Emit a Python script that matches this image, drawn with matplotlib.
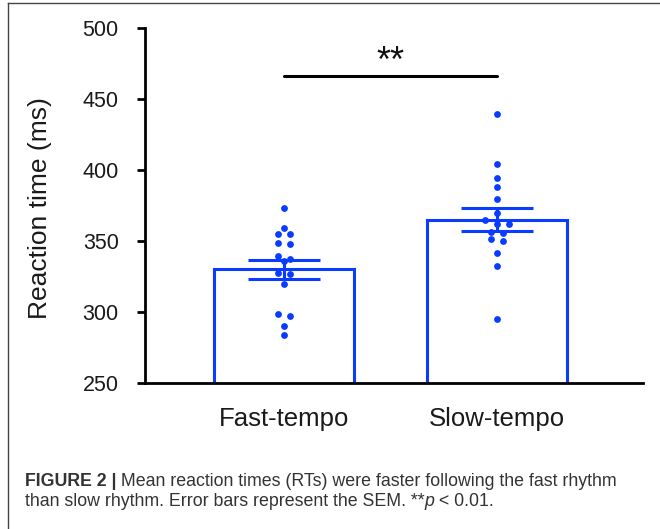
import matplotlib
matplotlib.use('Agg')
import matplotlib.pyplot as plt
import numpy as np
from matplotlib.lines import Line2D

# ---- data ----
categories = ['Fast-tempo', 'Slow-tempo']
fast_rt = [373.0, 359.4, 354.7, 354.7, 348.4, 347.9, 339.4, 337.1, 336.1,
           327.7, 326.5, 319.5, 298.4, 297.2, 290.4, 284.0]
slow_rt = [439.2, 404.2, 394.1, 388.3, 379.5, 369.5, 364.8, 362.0, 361.8,
           356.6, 355.4, 351.4, 350.2, 341.3, 332.2, 294.8]
mean_rt = [330.1, 365.0]
sem_rt = [6.7, 8.1]
y_ticks = [250, 300, 350, 400, 450, 500]
sig_label = '**'
sig_level = 466
ylabel = 'Reaction time (ms)'
caption_bold = 'FIGURE 2 |'
caption_1 = ' Mean reaction times (RTs) were faster following the fast rhythm'
caption_2a = 'than slow rhythm. Error bars represent the SEM. **'
caption_2b = 'p'
caption_2c = ' < 0.01.'

BLUE = '#0a3cff'
plt.rcParams['font.family'] = ['Liberation Sans', 'DejaVu Sans']

W, H = 660, 529
fig = plt.figure(figsize=(W / 100, H / 100), dpi=100)
ax = fig.add_axes([145 / W, 1 - 383 / H, (643 - 145) / W, (383 - 28) / H])

x = np.arange(len(categories))
ax.set_xlim(-0.653, 1.685)
ax.set_ylim(250, 500)

ax.bar(x, mean_rt, width=0.657, facecolor='white', edgecolor=BLUE,
       linewidth=2.2, zorder=1)
ax.errorbar(x, mean_rt, yerr=sem_rt, fmt='none', ecolor=BLUE,
            elinewidth=2.2, capsize=26, capthick=2.2, zorder=3)

# simple row-based swarm layout
fig.canvas.draw()
p0 = ax.transData.transform((0, 250))
p1 = ax.transData.transform((1, 251))
px_per_x = p1[0] - p0[0]
px_per_y = p1[1] - p0[1]


def swarm_offsets(values, step_px=12.4, tol_px=4.6):
    vals = np.asarray(values, dtype=float)
    order = np.argsort(-vals, kind='stable')
    rows = []
    for i in order:
        if rows and (vals[rows[-1][0]] - vals[i]) * px_per_y <= tol_px:
            rows[-1].append(i)
        else:
            rows.append([i])
    off = np.zeros(len(vals))
    for r in rows:
        n = len(r)
        for k, i in enumerate(r):
            off[i] = (k - (n - 1) / 2) * step_px
    return off / px_per_x


for xi, vals in zip(x, [fast_rt, slow_rt]):
    ax.scatter(xi + swarm_offsets(vals), vals, s=24, color=BLUE,
               linewidths=0, zorder=4, clip_on=False)

# significance bar
ax.plot([x[0], x[1]], [sig_level, sig_level], color='black', lw=2.2,
        solid_capstyle='round', zorder=5)
ax.text((x[0] + x[1]) / 2, sig_level + 3.0, sig_label, ha='center',
        va='baseline', fontsize=26, color='#111111')

# axes styling
for s in ['top', 'right']:
    ax.spines[s].set_visible(False)
for s in ['left', 'bottom']:
    ax.spines[s].set_linewidth(2.0)
    ax.spines[s].set_color('black')
ax.set_yticks(y_ticks)
ax.set_yticklabels([str(t) for t in y_ticks])
ax.tick_params(axis='y', length=6, width=2.0, pad=13, labelsize=15.5,
               labelcolor='#1a1a1a')
ax.set_xticks(x)
ax.set_xticklabels(categories)
ax.tick_params(axis='x', length=0, pad=17, labelsize=18.5,
               labelcolor='#1a1a1a')
ax.set_ylabel(ylabel, fontsize=19, color='#1a1a1a')
ax.yaxis.set_label_coords(-0.186, 0.494)

# figure frame (partial border)
fig.add_artist(Line2D([8 / W, 8 / W], [0, 1 - 3 / H], color='#444444',
                      lw=1.0, transform=fig.transFigure))
fig.add_artist(Line2D([8 / W, 1], [1 - 3 / H, 1 - 3 / H], color='#444444',
                      lw=1.0, transform=fig.transFigure))

# caption
cap_kw = dict(fontsize=12.8, color='#333333', va='baseline', ha='left')
y1 = 1 - 485.5 / H
y2 = 1 - 506 / H
fig.canvas.draw()
r = fig.canvas.get_renderer()
t = fig.text(25 / W, y1, caption_bold, fontweight='bold', **cap_kw)
bb = t.get_window_extent(r)
fig.text(bb.x1 / W, y1, caption_1, **cap_kw)
t = fig.text(25 / W, y2, caption_2a, **cap_kw)
bb = t.get_window_extent(r)
t = fig.text(bb.x1 / W, y2, caption_2b, style='italic', **cap_kw)
bb = t.get_window_extent(r)
fig.text(bb.x1 / W, y2, caption_2c, **cap_kw)

fig.savefig('out.png', dpi=100)
